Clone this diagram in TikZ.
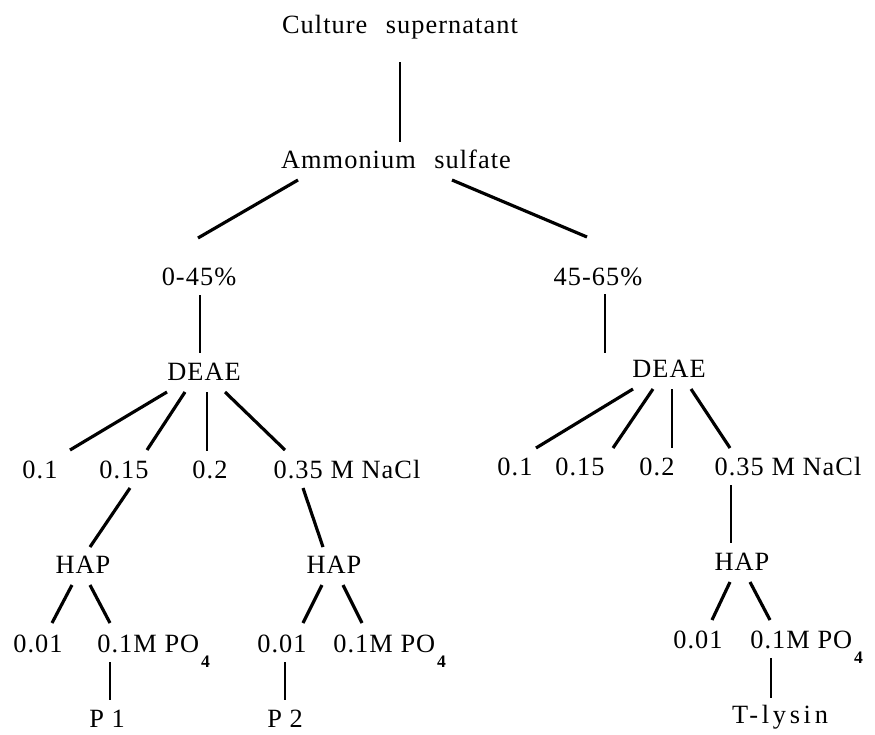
\documentclass[tikz,border=0pt]{standalone}
\usepackage{fontspec}
\setmainfont{Liberation Serif}[LetterSpace=4]
\usetikzlibrary{calc}
\newcommand{\POfour}{PO\kern1pt\raisebox{-9pt}{\fontsize{10}{11}\selectfont\bfseries 4}}
\tikzset{%
  lbl/.style={anchor=base, inner sep=0pt, font=\fontsize{15}{18}\selectfont},
  stem/.style={line width=1.1pt},
  branch/.style={line width=1.8pt}
}

\begin{document}
\begin{tikzpicture}[x=0.02cm, y=-0.02cm]
  \useasboundingbox (0,0) rectangle (875,734);

  \node[lbl] (cult) at (400,33) {Culture\hspace{0.7em}supernatant};
  \node[lbl] (amm) at (396,168) {Ammonium\hspace{0.7em}sulfate};
  \node[lbl] (low) at (199,285) {0-45\%};
  \node[lbl] (high) at (598,285) {45-65\%};
  \node[lbl] (deaeA) at (204,380) {DEAE};
  \node[lbl] (deaeB) at (669,377) {DEAE};

  % left DEAE fractions
  \node[lbl] (a01) at (40,478) {0.1};
  \node[lbl] (a015) at (124,478) {0.15};
  \node[lbl] (a02) at (210,478) {0.2};
  \node[lbl] (anacl) at (347,478) {0.35 M NaCl};
  % right DEAE fractions
  \node[lbl] (b01) at (515,475) {0.1};
  \node[lbl] (b015) at (580,475) {0.15};
  \node[lbl] (b02) at (657,475) {0.2};
  \node[lbl] (bnacl) at (788,475) {0.35 M NaCl};

  \node[lbl] (hapA) at (83,573) {HAP};
  \node[lbl] (hapB) at (334,573) {HAP};
  \node[lbl] (hapC) at (742,570) {HAP};

  \node[lbl] (a001) at (38,652) {0.01};
  \node[lbl, anchor=base west] (apo) at (97,652) {0.1M \POfour};
  \node[lbl] (b001) at (282,652) {0.01};
  \node[lbl, anchor=base west] (bpo) at (333,652) {0.1M \POfour};
  \node[lbl] (c001) at (698,648) {0.01};
  \node[lbl, anchor=base west] (cpo) at (750,648) {0.1M \POfour};

  \node[lbl] (p1) at (107,727) {P 1};
  \node[lbl] (p2) at (285,727) {P 2};
  \node[lbl] (tly) at (780,723) {\addfontfeature{LetterSpace=14}T-lysin};

  % top
  \draw[stem] ($(cult.base)+(0,29)$) -- ($(amm.base)+(4,-26)$);
  \draw[branch] ($(amm.base)+(-98,12)$) -- ($(low.base)+(-1,-47)$);
  \draw[branch] ($(amm.base)+(56,12)$) -- ($(high.base)+(-11,-48)$);
  \draw[stem] ($(low.base)+(1,10)$) -- ($(deaeA.base)+(-4,-27)$);
  \draw[stem] ($(high.base)+(7,9)$) -- ($(deaeB.base)+(-64,-24)$);

  % left branch
  \draw[branch] ($(deaeA.base)+(-37,12)$) -- ($(a01.base)+(30,-28)$);
  \draw[branch] ($(deaeA.base)+(-19,12)$) -- ($(a015.base)+(23,-28)$);
  \draw[stem] ($(deaeA.base)+(3,12)$) -- ($(a02.base)+(-3,-27)$);
  \draw[branch] ($(deaeA.base)+(21,12)$) -- ($(anacl.base)+(-62,-28)$);
  \draw[branch] ($(a015.base)+(6,10)$) -- ($(hapA.base)+(7,-26)$);
  \draw[branch] ($(anacl.base)+(-44,10)$) -- ($(hapB.base)+(-11,-26)$);
  \draw[branch] ($(hapA.base)+(-11,12)$) -- ($(a001.base)+(14,-29)$);
  \draw[branch] ($(hapA.base)+(7,12)$) -- ($(apo.base west)+(13,-29)$);
  \draw[stem] ($(apo.base west)+(13,10)$) -- ($(p1.base)+(3,-27)$);
  \draw[branch] ($(hapB.base)+(-12,12)$) -- ($(b001.base)+(21,-29)$);
  \draw[branch] ($(hapB.base)+(9,12)$) -- ($(bpo.base west)+(29,-29)$);
  \draw[stem] ($(b001.base)+(3,10)$) -- ($(p2.base)+(0,-27)$);

  % right branch
  \draw[branch] ($(deaeB.base)+(-36,12)$) -- ($(b01.base)+(21,-27)$);
  \draw[branch] ($(deaeB.base)+(-16,12)$) -- ($(b015.base)+(33,-27)$);
  \draw[stem] ($(deaeB.base)+(3,12)$) -- ($(b02.base)+(15,-27)$);
  \draw[branch] ($(deaeB.base)+(22,12)$) -- ($(bnacl.base)+(-58,-27)$);
  \draw[stem] ($(bnacl.base)+(-57,10)$) -- ($(hapC.base)+(-11,-27)$);
  \draw[branch] ($(hapC.base)+(-12,12)$) -- ($(c001.base)+(14,-28)$);
  \draw[branch] ($(hapC.base)+(8,12)$) -- ($(cpo.base west)+(20,-28)$);
  \draw[stem] ($(cpo.base west)+(21,10)$) -- ($(tly.base)+(-9,-25)$);

\end{tikzpicture}
\end{document}
